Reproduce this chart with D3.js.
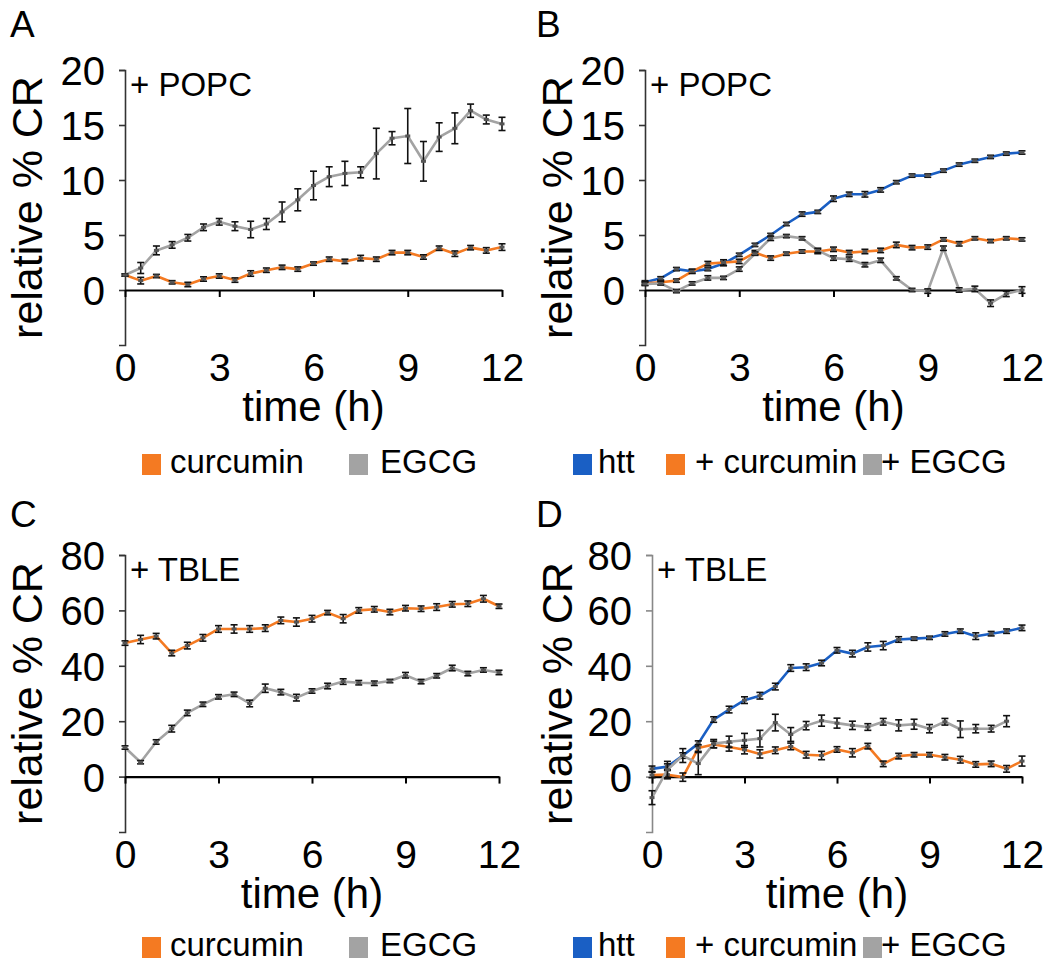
<!DOCTYPE html>
<html><head><meta charset="utf-8">
<script src="https://cdn.jsdelivr.net/npm/d3@7"></script>
<style>
body{margin:0;background:#fff;}
text{font-family:"Liberation Sans",Arial,sans-serif;fill:#000;}
</style></head>
<body><svg id="c" width="1050" height="971"></svg>
<script>
// ---------- DATA ----------
const time = [0,0.5,1,1.5,2,2.5,3,3.5,4,4.5,5,5.5,6,6.5,7,7.5,8,8.5,9,9.5,10,10.5,11,11.5,12];
const xTicks = [0,3,6,9,12];
const yTicksPOPC = [0,5,10,15,20];
const yTicksTBLE = [0,20,40,60,80];

// Panel A (+ POPC)
const A_curcumin = [1.36,0.85,1.27,0.7,0.5,1.0,1.27,0.9,1.5,1.8,2.06,1.9,2.4,2.8,2.6,2.9,2.8,3.4,3.4,3.0,3.8,3.3,3.85,3.6,3.9];
const A_curcumin_err = [0.1,0.3,0.15,0.15,0.2,0.2,0.2,0.2,0.25,0.2,0.2,0.2,0.15,0.2,0.2,0.25,0.2,0.2,0.2,0.2,0.2,0.25,0.2,0.25,0.3];
const A_egcg = [1.36,2.0,3.6,4.1,4.75,5.7,6.2,5.8,5.5,6.0,7.1,8.2,9.5,10.3,10.6,10.7,12.4,13.8,14.0,11.7,13.9,14.7,16.3,15.5,15.1];
const A_egcg_err = [0.1,0.5,0.4,0.3,0.3,0.3,0.3,0.4,0.75,0.5,0.9,1.0,1.3,0.9,1.1,0.5,2.3,0.6,2.5,1.8,1.3,1.4,0.6,0.4,0.6];

// Panel B (+ POPC)
const B_htt = [0.7,1.06,1.9,1.7,1.9,2.4,3.2,4.1,5.0,6.0,6.9,7.1,8.3,8.7,8.7,9.1,9.8,10.4,10.4,10.85,11.4,11.75,12.1,12.4,12.5];
const B_htt_err = [0.15,0.15,0.15,0.15,0.15,0.2,0.15,0.15,0.15,0.15,0.2,0.15,0.25,0.2,0.25,0.2,0.15,0.15,0.15,0.15,0.15,0.15,0.15,0.15,0.15];
const B_curcumin = [0.6,0.7,0.85,1.7,2.4,2.5,2.6,3.4,2.9,3.3,3.5,3.5,3.7,3.4,3.5,3.6,4.1,3.85,3.9,4.6,4.2,4.7,4.45,4.7,4.6];
const B_curcumin_err = [0.15,0.15,0.15,0.2,0.2,0.25,0.2,0.2,0.2,0.15,0.15,0.2,0.2,0.2,0.2,0.2,0.25,0.2,0.2,0.15,0.2,0.15,0.15,0.15,0.15];
const B_egcg = [0.55,0.6,-0.1,0.6,1.1,1.1,1.9,3.3,4.7,4.9,4.7,3.6,2.9,2.8,2.3,2.7,1.06,0,-0.1,3.8,0,0.1,-1.2,-0.35,0];
const B_egcg_err = [0.15,0.15,0.15,0.15,0.2,0.15,0.2,0.15,0.2,0.15,0.15,0.2,0.2,0.2,0.2,0.2,0.15,0.15,0.2,0.2,0.2,0.25,0.3,0.25,0.3];

// Panel C (+ TBLE)
const C_curcumin = [48.2,49.5,50.7,44.6,47.3,50.1,53.3,53.3,53.3,53.6,56.4,55.8,57.0,59.2,57.0,60.0,60.4,59.4,60.8,60.6,61.2,62.2,62.4,64.2,61.5];
const C_curcumin_err = [0.8,1.5,1.0,1.0,1.2,1.2,1.2,1.5,1.2,1.2,1.2,1.5,1.2,0.8,1.5,1.0,1.0,1.0,1.0,1.0,1.2,1.0,1.0,1.2,0.8];
const C_egcg = [10.5,5.2,12.5,17.3,23.0,26.1,28.8,29.7,26.4,31.9,30.5,28.5,30.9,32.7,34.3,33.9,33.7,34.5,36.6,34.3,36.4,39.2,37.2,38.5,37.6];
const C_egcg_err = [0.6,0.6,0.8,1.2,1.0,0.8,0.8,0.8,1.2,1.5,1.0,1.2,0.8,1.0,1.0,0.8,0.8,0.6,1.0,0.8,0.8,1.0,0.8,0.8,0.8];

// Panel D (+ TBLE)
const D_htt = [2.8,3.6,7.6,11.9,20.6,24.2,27.6,29.2,32.5,39.2,39.5,41.0,45.6,44.4,46.8,47.3,49.5,49.8,50.1,51.5,52.5,50.7,51.6,52.5,53.7];
const D_htt_err = [1.0,1.0,1.0,1.0,1.0,1.2,1.2,1.2,1.2,1.2,1.2,1.0,1.0,1.2,1.5,1.5,1.0,0.6,0.6,0.8,0.8,1.2,0.8,0.8,1.0];
const D_curcumin = [0.6,0.7,-0.2,10.3,11.6,10.7,9.7,8.2,9.5,10.9,7.9,7.6,9.8,8.6,11.0,4.6,7.4,7.9,7.9,7.0,6.1,4.4,4.6,2.8,5.6];
const D_curcumin_err = [1.0,1.5,1.5,1.2,1.2,1.5,1.5,1.5,1.2,1.2,1.2,1.5,1.0,1.5,1.0,1.0,1.0,0.8,0.8,1.0,1.2,1.0,1.0,1.2,1.8];
const D_time_egcg = [0,0.5,1,1.5,2,2.5,3,3.5,4,4.5,5,5.5,6,6.5,7,7.5,8,8.5,9,9.5,10,10.5,11,11.5];
const D_egcg = [-7.6,2.5,7.6,4.7,11.9,12.6,13.1,13.7,19.5,15.2,18.4,20.2,19.3,18.5,17.9,19.8,18.5,18.9,17.3,19.8,17.1,17.3,17.3,20.0];
const D_egcg_err = [2.5,3.0,2.5,4.0,1.5,2.0,2.5,3.0,3.0,2.5,1.5,2.0,1.8,1.5,1.2,1.2,2.0,1.8,1.5,1.2,3.0,1.5,1.2,2.0];

const colors = {htt:"#1a5fc4", curcumin:"#f47a22", egcg:"#a3a3a3"};

// ---------- DRAW ----------
const svg = d3.select("#c");
svg.append("rect").attr("width",1050).attr("height",971).attr("fill","#fff");

function panel(cfg){
  const g = svg.append("g");
  const x = d3.scaleLinear().domain([0,12]).range([cfg.x0,cfg.x1]);
  const y = d3.scaleLinear().domain(cfg.yDomain).range([cfg.yBot,cfg.yTop]);

  // y axis
  const ya = g.append("g").attr("transform",`translate(${cfg.x0},0)`)
    .call(d3.axisLeft(y).tickValues(cfg.yTicks).tickSize(6).tickSizeOuter(6).tickPadding(14));
  ya.select(".domain").attr("stroke",cfg.yAxisColor||"#333").attr("stroke-width",1.6);
  ya.selectAll(".tick line").attr("stroke",cfg.yAxisColor||"#333").attr("stroke-width",1.6);
  ya.selectAll(".tick text").style("font-size","40px").attr("font-family",null).attr("dy","0.36em");

  // x axis at y=0
  const xa = g.append("g").attr("transform",`translate(0,${y(0)})`)
    .call(d3.axisBottom(x).tickValues(xTicks).tickSize(7).tickSizeOuter(0).tickFormat(""));
  xa.select(".domain").attr("stroke","#000").attr("stroke-width",2.2);
  xa.selectAll(".tick line").attr("stroke","#000").attr("stroke-width",2);

  // x tick labels at bottom
  const xl = g.append("g").attr("transform",`translate(0,${cfg.yBot})`)
    .call(d3.axisBottom(x).tickValues(xTicks).tickSize(0).tickPadding(8));
  xl.select(".domain").remove();
  xl.selectAll(".tick text").style("font-size","39px").attr("font-family",null);

  // axis titles
  g.append("text").attr("x",(cfg.x0+cfg.x1)/2).attr("y",cfg.yBot+76)
    .attr("text-anchor","middle").style("font-size","42px").text("time (h)");
  g.append("text").attr("transform",`translate(${cfg.ylabX},${(cfg.yTop+cfg.yBot)/2}) rotate(-90)`)
    .attr("text-anchor","middle").attr("dy","0.35em").style("font-size","43px").text("relative % CR");
  g.append("text").attr("x",cfg.x0+5).attr("y",cfg.yTop+26).style("font-size","33px").text(cfg.note);
  g.append("text").attr("x",cfg.labX).attr("y",cfg.labY).style("font-size","37px").text(cfg.label);

  const line = d3.line().x(d=>x(d.t)).y(d=>y(d.v));
  cfg.series.forEach(s=>{
    const pts = s.values.map((v,i)=>({t:s.time[i],v:v,e:s.err[i]}));
    g.append("path").datum(pts).attr("d",line).attr("fill","none")
      .attr("stroke",s.color).attr("stroke-width",2.6).attr("stroke-linejoin","round");
    const eb = g.append("g");
    pts.forEach(p=>{
      const xp = x(p.t), y1 = y(p.v+p.e), y2 = y(p.v-p.e);
      eb.append("line").attr("x1",xp).attr("x2",xp).attr("y1",y1).attr("y2",y2).attr("stroke","#111").attr("stroke-width",1.6);
      eb.append("line").attr("x1",xp-3.5).attr("x2",xp+3.5).attr("y1",y1).attr("y2",y1).attr("stroke","#111").attr("stroke-width",1.6);
      eb.append("line").attr("x1",xp-3.5).attr("x2",xp+3.5).attr("y1",y2).attr("y2",y2).attr("stroke","#111").attr("stroke-width",1.6);
      eb.append("rect").attr("x",xp-2.5).attr("y",y(p.v)-1.5).attr("width",5).attr("height",3).attr("fill","#555");
    });
  });

  // legend
  cfg.legend.forEach(l=>{
    g.append("rect").attr("x",l.sx).attr("y",cfg.legY-19).attr("width",19).attr("height",21).attr("fill",l.color);
    g.append("text").attr("x",l.tx).attr("y",cfg.legY).style("font-size","33px").text(l.text);
  });
}

panel({label:"A",labX:10,labY:37,note:"+ POPC",x0:125,x1:502,yTop:70,yBot:345,yDomain:[-5,20],yTicks:yTicksPOPC,ylabX:27,legY:473,
  series:[
    {time:time,values:A_curcumin,err:A_curcumin_err,color:colors.curcumin},
    {time:time,values:A_egcg,err:A_egcg_err,color:colors.egcg}],
  legend:[{sx:142,tx:170,color:colors.curcumin,text:"curcumin"},{sx:349,tx:380,color:colors.egcg,text:"EGCG"}]});

panel({label:"B",labX:536,labY:37,note:"+ POPC",x0:645,x1:1022,yTop:70,yBot:345,yDomain:[-5,20],yTicks:yTicksPOPC,ylabX:557,legY:473,
  series:[
    {time:time,values:B_htt,err:B_htt_err,color:colors.htt},
    {time:time,values:B_curcumin,err:B_curcumin_err,color:colors.curcumin},
    {time:time,values:B_egcg,err:B_egcg_err,color:colors.egcg}],
  legend:[{sx:573,tx:598,color:colors.htt,text:"htt"},{sx:666,tx:695,color:colors.curcumin,text:"+ curcumin"},{sx:863,tx:881,color:colors.egcg,text:"+ EGCG"}]});

panel({label:"C",labX:10,labY:527,note:"+ TBLE",x0:125,x1:499,yTop:555,yBot:832,yDomain:[-20,80],yTicks:yTicksTBLE,ylabX:27,legY:956,
  series:[
    {time:time,values:C_curcumin,err:C_curcumin_err,color:colors.curcumin},
    {time:time,values:C_egcg,err:C_egcg_err,color:colors.egcg}],
  legend:[{sx:142,tx:170,color:colors.curcumin,text:"curcumin"},{sx:349,tx:380,color:colors.egcg,text:"EGCG"}]});

panel({label:"D",labX:536,labY:527,note:"+ TBLE",x0:652,x1:1022,yTop:555,yBot:832,yDomain:[-20,80],yTicks:yTicksTBLE,ylabX:557,legY:956,yAxisColor:"#888",
  series:[
    {time:time,values:D_htt,err:D_htt_err,color:colors.htt},
    {time:time,values:D_curcumin,err:D_curcumin_err,color:colors.curcumin},
    {time:D_time_egcg,values:D_egcg,err:D_egcg_err,color:colors.egcg}],
  legend:[{sx:573,tx:598,color:colors.htt,text:"htt"},{sx:666,tx:695,color:colors.curcumin,text:"+ curcumin"},{sx:863,tx:881,color:colors.egcg,text:"+ EGCG"}]});
</script></body></html>
